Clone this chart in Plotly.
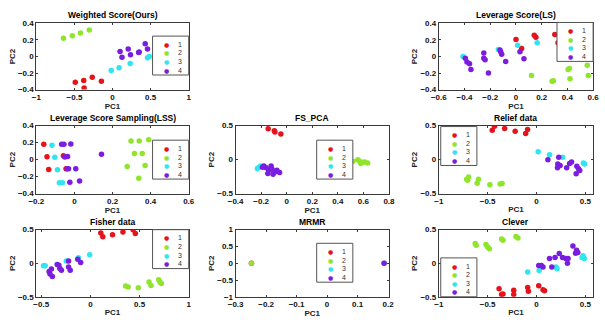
import plotly.graph_objects as go

# ---------------- data ----------------
GROUPS = ["1", "2", "3", "4"]
COLORS = ["#e5131c", "#8fe52c", "#2fe5f0", "#7a1de0"]

# Weighted Score(Ours)
ws_x = [-0.489, -0.378, -0.266, -0.146, -0.373,
        -0.644, -0.528, -0.421, -0.305,
        -0.017, 0.086, 0.232, 0.459, 0.481,
        0.099, 0.124, 0.206, 0.236, 0.343, 0.350, 0.429, 0.459]
ws_y = [-0.31, -0.29, -0.25, -0.30, -0.38,
        0.22, 0.25, 0.285, 0.32,
        -0.17, -0.135, -0.085, -0.015, 0.0,
        0.06, -0.01, 0.09, 0.02, 0.05, 0.055, 0.155, 0.09]
ws_g = [1] * 5 + [2] * 4 + [3] * 5 + [4] * 8

# Leverage Score(LS)
ls_x = [0.0, 0.044, 0.142, 0.155, 0.302, 0.327,
        0.121, 0.281, 0.291, 0.405, 0.415, 0.42, 0.554, 0.562,
        -0.412, -0.137, 0.013, 0.165,
        -0.394, -0.381, -0.361, -0.35, -0.25, -0.25, -0.24, -0.214,
        -0.124, -0.119, -0.111, -0.08, 0.031, 0.062]
ls_y = [0.207, 0.098, 0.258, 0.234, 0.266, 0.168,
        -0.23, -0.30, -0.293, -0.156, -0.145, -0.27, -0.105, -0.23,
        0.0, 0.086, 0.137, 0.168,
        -0.02, -0.066, -0.086, -0.156, 0.043, -0.02, -0.039, -0.2,
        0.078, 0.059, 0.027, -0.059, 0.059, -0.027]
ls_g = [1] * 6 + [2] * 8 + [3] * 4 + [4] * 14

# Leverage Score Sampling(LSS)
lss_x = [-0.161, -0.144, -0.135, -0.058, -0.044,
         0.297, 0.34, 0.39, 0.315, 0.356, 0.277, 0.371, 0.338,
         -0.118, -0.103, -0.089, -0.079, -0.063,
         -0.067, -0.055, -0.05, -0.036, -0.019, -0.038, -0.031, 0.007,
         -0.024, 0.027, 0.142]
lss_y = [0.181, 0.035, -0.115, 0.046, -0.108,
         0.219, 0.219, 0.235, 0.073, 0.073, -0.081, -0.069, -0.219,
         0.169, 0.027, -0.119, -0.273, -0.273,
         0.181, 0.181, 0.031, 0.038, 0.185, -0.108, -0.108, -0.108,
         -0.265, -0.25, 0.062]
lss_g = [1] * 5 + [2] * 8 + [3] * 5 + [4] * 11

# FS_PCA
fs_x = [-0.145, -0.097, -0.092, -0.046,
        0.518, 0.556, 0.569, 0.579, 0.594, 0.612, 0.633,
        -0.23, -0.217, -0.204,
        -0.179, -0.161, -0.14, -0.148, -0.122, -0.115, -0.097, -0.077,
        -0.056, -0.107, -0.19]
fs_y = [0.452, 0.424, 0.405, 0.376,
        -0.024, 0.0, -0.024, -0.057, -0.038, -0.033, -0.048,
        -0.129, -0.11, -0.095,
        -0.095, -0.119, -0.157, -0.205, -0.095, -0.143, -0.19, -0.157,
        -0.19, -0.214, -0.11]
fs_g = [1] * 4 + [2] * 7 + [3] * 3 + [4] * 11

# Relief data
rf_x = [-0.453, -0.43, -0.326, -0.218, -0.111, -0.091,
        -0.715, -0.695, -0.705, -0.607, -0.594, -0.477, -0.372, -0.352,
        0.017, 0.134, 0.268, 0.48, 0.493,
        0.117, 0.228, 0.218, 0.242, 0.215, 0.309, 0.339, 0.359,
        0.413, 0.43, 0.443, 0.406]
rf_y = [0.433, 0.49, 0.457, 0.418, 0.385, 0.442,
        -0.288, -0.255, -0.303, -0.346, -0.288, -0.37, -0.356, -0.351,
        0.115, 0.072, 0.034, -0.048, -0.063,
        0.0, 0.034, -0.063, -0.087, -0.12, -0.12, -0.058, -0.034,
        -0.096, -0.135, -0.159, -0.207]
rf_g = [1] * 6 + [2] * 8 + [3] * 5 + [4] * 12

# Fisher data
fi_x = [0.106, 0.126, 0.225, 0.331, 0.434, 0.457,
        0.358, 0.384, 0.487, 0.596, 0.616, 0.695, 0.709, 0.722,
        -0.477, -0.46, -0.245, -0.123, -0.007,
        -0.42, -0.411, -0.397, -0.387, -0.338, -0.321, -0.311, -0.295,
        -0.222, -0.205, -0.222, -0.129, -0.099]
fi_y = [0.452, 0.394, 0.423, 0.466, 0.5, 0.442,
        -0.341, -0.356, -0.365, -0.279, -0.332, -0.245, -0.284, -0.303,
        -0.038, -0.038, 0.034, 0.082, 0.125,
        -0.125, -0.159, -0.087, -0.197, -0.019, -0.029, -0.077, -0.106,
        -0.058, -0.106, 0.034, 0.058, 0.01]
fi_g = [1] * 6 + [2] * 8 + [3] * 5 + [4] * 13

# MRMR
mr_x = [-0.248, -0.248, 0.187, 0.187]
mr_y = [0.0, 0.0, 0.0, 0.0]
mr_g = [1, 2, 3, 4]

# Clever
cl_x = [-0.383, -0.357, -0.343, -0.233, -0.233, -0.09, -0.083, 0.023, 0.067, 0.083,
        -0.627, -0.617, -0.517, -0.5, -0.483, -0.357, -0.343, -0.21, -0.19,
        -0.09, 0.027, 0.2, 0.21, 0.467, 0.477, 0.49,
        0.023, 0.05, 0.067, 0.133, 0.157, 0.19, 0.233, 0.267, 0.3, 0.317,
        0.323, 0.373, 0.4, 0.41, 0.423]
cl_y = [-0.38, -0.466, -0.457, -0.404, -0.466, -0.361, -0.418, -0.337, -0.394, -0.409,
        0.293, 0.269, 0.279, 0.24, 0.216, 0.361, 0.341, 0.399, 0.375,
        -0.13, -0.11, -0.058, -0.082, 0.087, 0.111, 0.072,
        -0.034, -0.034, -0.058, 0.072, -0.058, 0.087, 0.144, 0.087, 0.072, 0.0,
        0.072, 0.255, 0.149, 0.192, 0.159]
cl_g = [1] * 10 + [2] * 9 + [3] * 7 + [4] * 15

# ---------------- layout spec ----------------
W, H = 605, 330
COLS = [(29, 185), (233, 390), (441, 599)]   # pixel x extents
ROWS = [(20, 88), (125, 195), (232, 301)]    # pixel y extents

panels = [
    ("Weighted Score(Ours)", ws_x, ws_y, ws_g, 0, 0, [-1, 1], 0.5, [-0.4, 0.4], 0.2, ("r", 13)),
    ("Leverage Score(LS)", ls_x, ls_y, ls_g, 0, 2, [-0.6, 0.6], 0.2, [-0.4, 0.4], 0.2, ("r", -1)),
    ("Leverage Score Sampling(LSS)", lss_x, lss_y, lss_g, 1, 0, [-0.2, 0.6], 0.2, [-0.4, 0.4], 0.2, ("r", 15)),
    ("FS_PCA", fs_x, fs_y, fs_g, 1, 1, [-0.4, 0.8], 0.2, [-0.5, 0.5], 0.5, ("c", 15)),
    ("Relief data", rf_x, rf_y, rf_g, 1, 2, [-1, 0.58], 0.5, [-0.5, 0.5], 0.5, ("l", 1)),
    ("Fisher data", fi_x, fi_y, fi_g, 2, 0, [-0.55, 1], 0.5, [-0.5, 0.5], 0.5, ("r", 0)),
    ("MRMR", mr_x, mr_y, mr_g, 2, 1, [-0.3, 0.203], 0.1, [-1, 1], 0.5, ("c", 14)),
    ("Clever", cl_x, cl_y, cl_g, 2, 2, [-1, 0.58], 0.5, [-0.5, 0.5], 0.5, ("lb", 0)),
]

FONT = "Liberation Sans, Arial, sans-serif"
fig = go.Figure()
annotations = []
shapes = []

LEG_W, LEG_H = 37, 40

for i, (title, xs, ys, gs, r, c, xr, xd, yr, yd, leg) in enumerate(panels):
    n = "" if i == 0 else str(i + 1)
    xa, ya = "x" + n, "y" + n
    for gi, (gname, col) in enumerate(zip(GROUPS, COLORS)):
        px = [x for x, g in zip(xs, gs) if g == gi + 1]
        py = [y for y, g in zip(ys, gs) if g == gi + 1]
        fig.add_trace(go.Scatter(x=px, y=py, mode="markers", name=gname,
                                 xaxis=xa, yaxis=ya, showlegend=False,
                                 marker=dict(color=col, size=5.5, line=dict(width=0))))
    x0, x1 = COLS[c]
    y0, y1 = ROWS[r]
    axcommon = dict(showline=True, linecolor="#3a3a3a", linewidth=1, mirror="ticks",
                    ticks="inside", ticklen=2, tickcolor="#3a3a3a", showgrid=False,
                    zeroline=False,
                    tickfont=dict(family=FONT, size=8, color="#111", weight="bold"))
    fig.layout["xaxis" + n] = dict(domain=[x0 / W, x1 / W], range=xr, dtick=xd, tick0=0,
                                   anchor=ya,
                                   title=dict(text="PC1", standoff=1,
                                              font=dict(family=FONT, size=8, color="#222", weight="bold")),
                                   **axcommon)
    fig.layout["yaxis" + n] = dict(domain=[1 - y1 / H, 1 - y0 / H], range=yr, dtick=yd, tick0=0,
                                   anchor=xa,
                                   title=dict(text="PC2", standoff=1,
                                              font=dict(family=FONT, size=8, color="#222", weight="bold")),
                                   **axcommon)
    annotations.append(dict(text=title, xref=xa + " domain", yref=ya + " domain", x=0.5, y=1,
                            xanchor="center", yanchor="bottom", yshift=1, showarrow=False,
                            font=dict(family=FONT, size=8.5, color="#000", weight="bold")))
    side, off = leg
    if side == "r":
        lx = x1 - LEG_W
        ly = y0 + off
    elif side == "l":
        lx = x0 + 2
        ly = y0 + off
    elif side == "lb":
        lx = x0 + 2
        ly = y1 - LEG_H
    else:
        lx = x0 + 83
        ly = y0 + off
    shapes.append(dict(type="rect", xref="paper", yref="paper",
                       x0=lx / W, x1=(lx + LEG_W) / W, y0=1 - ly / H, y1=1 - (ly + LEG_H) / H,
                       line=dict(color="#555", width=1), fillcolor="white", layer="above"))
    for gi, (gname, col) in enumerate(zip(GROUPS, COLORS)):
        cy = ly + 8.5 + 8.8 * gi
        annotations.append(dict(text="●", xref="paper", yref="paper", x=(lx + 14) / W, y=1 - cy / H,
                                xanchor="center", yanchor="middle", showarrow=False,
                                font=dict(family="DejaVu Sans", size=6, color=col)))
        annotations.append(dict(text=gname, xref="paper", yref="paper", x=(lx + 28) / W, y=1 - cy / H,
                                xanchor="center", yanchor="middle", showarrow=False,
                                font=dict(family=FONT, size=7, color="#333")))

fig.update_layout(width=W, height=H, margin=dict(l=0, r=0, t=0, b=0),
                  paper_bgcolor="white", plot_bgcolor="white",
                  showlegend=False, annotations=annotations, shapes=shapes)

fig.write_html("out.html")
